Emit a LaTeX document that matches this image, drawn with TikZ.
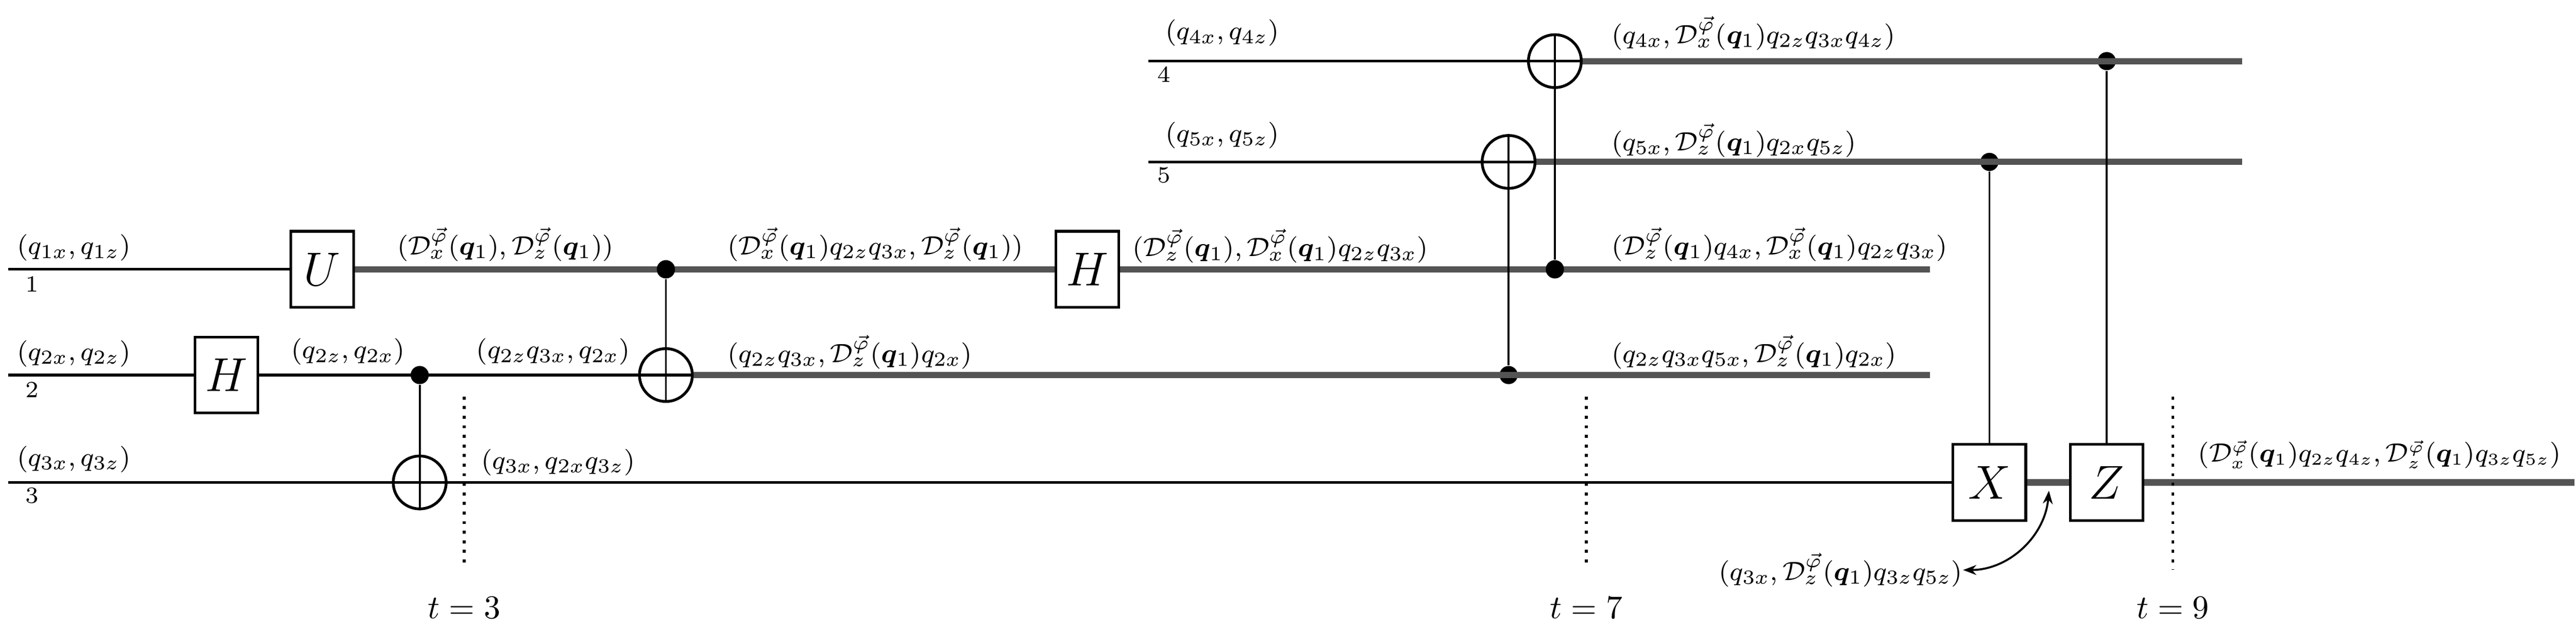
\documentclass[tikz,border=0pt]{standalone}
\usepackage{amsmath,bm}
\usetikzlibrary{arrows.meta}
\begin{document}
\begin{tikzpicture}[x=0.5pt,y=-0.5pt,
  wire/.style={line width=0.8pt,black},
  fat/.style={line width=1.9pt,black!67},
  ctl/.style={line width=0.6pt},
  gate/.style={draw,line width=0.8pt,fill=white,minimum width=19pt,minimum height=23pt,inner sep=0pt,font=\Large},
  tgt/.style={draw,circle,line width=0.8pt,minimum size=16pt,inner sep=0pt,fill=white},
  dot/.style={circle,fill=black,minimum size=5.5pt,inner sep=0pt},
  lab/.style={anchor=west,inner sep=0pt,font=\fontsize{8.5}{10}\selectfont},
  num/.style={anchor=west,inner sep=0pt,font=\scriptsize},
  tick/.style={line width=0.9pt,dotted}]
\useasboundingbox (0,0) rectangle (1559,380.5);
\newcommand{\Dx}{\mathcal{D}_x^{\vec{\varphi}}(\bm{q}_1)}
\newcommand{\Dz}{\mathcal{D}_z^{\vec{\varphi}}(\bm{q}_1)}
% coordinates
\coordinate (s1) at (5,163); \coordinate (s2) at (5,227); \coordinate (s3) at (5,292);
\coordinate (s4) at (695,37); \coordinate (s5) at (695,98);
\coordinate (e1) at (1168,163); \coordinate (e2) at (1168,227); \coordinate (e3) at (1558,292);
\coordinate (e4) at (1357,37); \coordinate (e5) at (1357,98);
% gates
\node[gate] (U) at (195,163) {$U$};
\node[gate] (H2) at (137,227) {$H$};
\node[gate] (H1) at (658,163) {$H$};
\node[gate,minimum width=22pt] (X) at (1204,292) {$X$};
\node[gate,minimum width=22pt] (Z) at (1275,292) {$Z$};
\node[dot] (c1) at (254,227) {}; \node[tgt] (t1) at (254,292) {};
\node[dot] (c2) at (403,163) {}; \node[tgt] (t2) at (403,227) {};
\node[dot] (c3) at (913,227) {}; \node[tgt] (t3) at (913,98) {};
\node[dot] (c4) at (941,163) {}; \node[tgt] (t4) at (941,37) {};
\node[dot] (c5) at (1204,98) {};
\node[dot] (c6) at (1275,37) {};
% wires
\draw[wire] (s1) -- (U.west);
\draw[fat] (U.east) -- (H1.west); \draw[fat] (H1.east) -- (e1);
\draw[wire] (s2) -- (H2.west); \draw[wire] (H2.east) -- (t2.east);
\draw[fat] (t2.east) -- (e2);
\draw[wire] (s3) -- (X.west); \draw[fat] (X.east) -- (Z.west); \draw[fat] (Z.east) -- (e3);
\draw[wire] (s4) -- (t4.east); \draw[fat] (t4.east) -- (e4);
\draw[wire] (s5) -- (t3.east); \draw[fat] (t3.east) -- (e5);
% re-draw targets on top
\foreach \t in {t1,t2,t3,t4}{\draw[line width=0.8pt] (\t.center) circle (8pt);
  \draw[ctl] (\t.north) -- (\t.south); \draw[ctl] (\t.west) -- (\t.east);}
\node[dot] at (c2) {}; \node[dot] at (c4) {};
\draw[ctl] (c1) -- (t1.south); \draw[ctl] (c2) -- (t2.south);
\draw[ctl] (c3) -- (t3.north); \draw[ctl] (c4) -- (t4.north);
\draw[ctl] (c5) -- (X.north); \draw[ctl] (c6) -- (Z.north);
% time markers
\coordinate (d3a) at (281,240); \coordinate (d3b) at (281,342);
\coordinate (d7a) at (960,240); \coordinate (d7b) at (960,342);
\coordinate (d9a) at (1315,240); \coordinate (d9b) at (1315,345);
\draw[tick] (d3a) -- (d3b); \draw[tick] (d7a) -- (d7b); \draw[tick] (d9a) -- (d9b);
\node (T3) at (281,368) {$t=3$};
\node (T7) at (960,368) {$t=7$};
\node (T9) at (1315,368) {$t=9$};
% wire numbers
\node[num] (n1) at (15,172) {1}; \node[num] (n2) at (15,236) {2}; \node[num] (n3) at (15,300) {3};
\node[num] (n4) at (700,45) {4}; \node[num] (n5) at (700,106) {5};
% labels
\node[lab] at (10,150) {$(q_{1x},q_{1z})$};
\node[lab] at (10,214) {$(q_{2x},q_{2z})$};
\node[lab] at (10,278) {$(q_{3x},q_{3z})$};
\node[lab] at (705,20) {$(q_{4x},q_{4z})$};
\node[lab] at (705,82) {$(q_{5x},q_{5z})$};
\node[lab] at (240,148) {$(\Dx,\Dz)$};
\node[lab] at (176,213) {$(q_{2z},q_{2x})$};
\node[lab] at (288,213) {$(q_{2z}q_{3x},q_{2x})$};
\node[lab] at (291,280) {$(q_{3x},q_{2x}q_{3z})$};
\node[lab] at (440,148) {$(\Dx q_{2z}q_{3x},\Dz)$};
\node[lab] at (440,213) {$(q_{2z}q_{3x},\Dz q_{2x})$};
\node[lab] at (685,149) {$(\Dz,\Dx q_{2z}q_{3x})$};
\node[lab] at (975,20) {$(q_{4x},\Dx q_{2z}q_{3x}q_{4z})$};
\node[lab] at (975,85) {$(q_{5x},\Dz q_{2x}q_{5z})$};
\node[lab] at (975,148) {$(\Dz q_{4x},\Dx q_{2z}q_{3x})$};
\node[lab] at (975,213) {$(q_{2z}q_{3x}q_{5x},\Dz q_{2x})$};
\node[lab,font=\fontsize{7.6}{9}\selectfont] at (1330,275) {$(\Dx q_{2z}q_{4z},\Dz q_{3z}q_{5z})$};
\node[lab] (L) at (1040,345) {$(q_{3x},\Dz q_{3z}q_{5z})$};
\coordinate (ar) at (1240,297);
\draw[ctl,{Stealth[length=4pt]}-{Stealth[length=4pt]}] (L.east) to[out=0,in=-95] (ar);
\end{tikzpicture}
\end{document}
